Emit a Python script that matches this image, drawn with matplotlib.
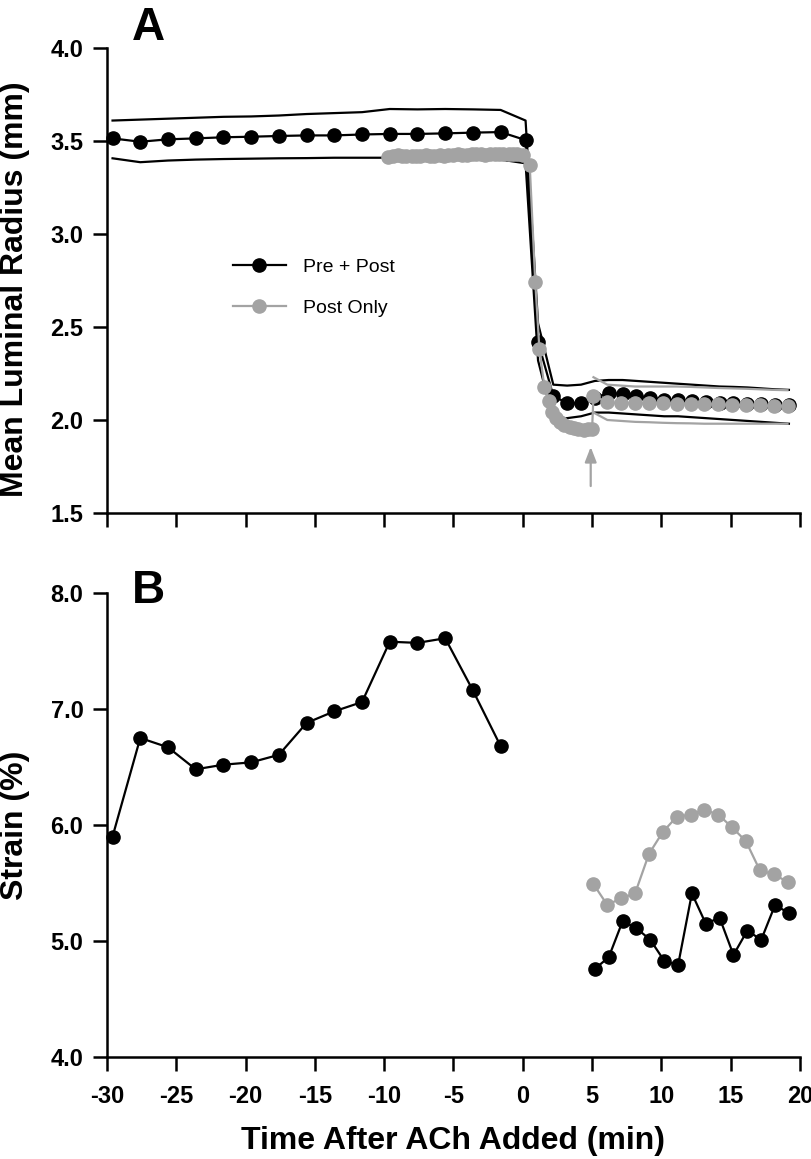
import matplotlib
matplotlib.use("Agg")
import matplotlib.pyplot as plt
from matplotlib.lines import Line2D

plt.rcParams['font.family'] = ['Liberation Sans', 'DejaVu Sans']

GRAY = "#a3a3a3"

# ---- panel A: mean luminal radius (mm) ----
t_black = [-29.6, -27.6, -25.6, -23.6, -21.6, -19.6, -17.6, -15.6, -13.6, -11.6,
           -9.6, -7.6, -5.6, -3.6, -1.6,
           0.2, 1.1, 2.2, 3.2, 4.2, 5.2, 6.2, 7.2, 8.2, 9.2, 10.2, 11.2, 12.2,
           13.2, 14.2, 15.2, 16.2, 17.2, 18.2, 19.2]
r_black = [3.514, 3.496, 3.509, 3.514, 3.52, 3.523, 3.527, 3.53, 3.53, 3.535,
           3.538, 3.538, 3.541, 3.545, 3.548,
           3.505, 2.42, 2.13, 2.09, 2.09, 2.12, 2.145, 2.14, 2.13, 2.12, 2.11, 2.105,
           2.10, 2.095, 2.09, 2.09, 2.085, 2.085, 2.08, 2.08]
r_black_hi = [3.61, 3.615, 3.62, 3.625, 3.63, 3.632, 3.637, 3.645, 3.65, 3.655,
              3.672, 3.67, 3.672, 3.67, 3.667,
              3.61, 2.52, 2.19, 2.185, 2.19, 2.21, 2.215, 2.215, 2.21, 2.205, 2.2,
              2.195, 2.19, 2.185, 2.18, 2.178, 2.175, 2.17, 2.165, 2.162]
r_black_lo = [3.407, 3.386, 3.395, 3.40, 3.403, 3.405, 3.407, 3.408, 3.41, 3.41,
              3.41, 3.41, 3.412, 3.41, 3.40,
              3.38, 2.32, 2.0, 2.01, 2.02, 2.04, 2.04, 2.035, 2.03, 2.025, 2.02, 2.02,
              2.015, 2.01, 2.005, 2.0, 1.995, 1.99, 1.985, 1.98]

t_gray = [-9.7, -9.4, -9.0, -8.7, -8.4, -8.0, -7.7, -7.4, -7.0, -6.7, -6.4, -6.0,
          -5.7, -5.4, -5.0, -4.7, -4.4, -4.0, -3.7, -3.4, -3.0, -2.7, -2.4, -2.0,
          -1.7, -1.4, -1.0, -0.7, -0.4, 0.0,
          0.5, 0.9, 1.2, 1.55, 1.9, 2.1, 2.4, 2.7, 3.0, 3.4, 3.7, 4.0, 4.4, 4.7, 5.0,
          5.1, 6.1, 7.1, 8.1, 9.1, 10.1, 11.1, 12.1, 13.1, 14.1, 15.1, 16.1, 17.1,
          18.1, 19.1]
r_gray = [3.415, 3.42, 3.425, 3.42, 3.418, 3.42, 3.422, 3.42, 3.425, 3.42, 3.422, 3.425,
          3.42, 3.424, 3.425, 3.428, 3.425, 3.424, 3.428, 3.43, 3.428, 3.426, 3.43, 3.432,
          3.43, 3.428, 3.432, 3.43, 3.43, 3.425,
          3.37, 2.74, 2.38, 2.18, 2.10, 2.045, 2.01, 1.99, 1.975, 1.965, 1.955, 1.95,
          1.948, 1.95, 1.952,
          2.13, 2.095, 2.09, 2.09, 2.09, 2.09, 2.088, 2.088, 2.085, 2.085, 2.08, 2.08,
          2.078, 2.075, 2.075]
t_gray_band = [5.1, 6.1, 7.1, 8.1, 9.1, 10.1, 11.1, 12.1, 13.1, 14.1, 15.1, 16.1,
               17.1, 18.1, 19.1]
r_gray_hi = [2.23, 2.19, 2.185, 2.18, 2.18, 2.18, 2.18, 2.178, 2.175, 2.172, 2.17,
             2.168, 2.165, 2.162, 2.16]
r_gray_lo = [2.04, 2.0, 1.995, 1.99, 1.988, 1.985, 1.983, 1.982, 1.98, 1.98, 1.98,
             1.98, 1.98, 1.98, 1.98]

# ---- panel B: strain (%) ----
t_strain_pre = t_black[:15]
strain_pre = [5.90, 6.75, 6.67, 6.48, 6.52, 6.54, 6.605, 6.88, 6.98, 7.06,
              7.58, 7.57, 7.61, 7.16, 6.68]
t_strain_post = [5.2, 6.2, 7.2, 8.2, 9.2, 10.2, 11.2, 12.2, 13.2, 14.2, 15.2,
                 16.2, 17.2, 18.2, 19.2]
strain_post = [4.76, 4.86, 5.17, 5.11, 5.01, 4.83, 4.79, 5.41, 5.15, 5.20,
               4.88, 5.09, 5.01, 5.31, 5.24]
t_strain_gray = t_gray_band
strain_gray = [5.49, 5.31, 5.37, 5.41, 5.75, 5.94, 6.07, 6.09, 6.13, 6.09,
               5.98, 5.86, 5.61, 5.575, 5.51]

W, H = 812, 1159
fig = plt.figure(figsize=(W / 100, H / 100), dpi=100)
L, R = 107 / W, 800 / W
axA = fig.add_axes([L, 1 - 513 / H, R - L, 465 / H])
axB = fig.add_axes([L, 1 - 1057 / H, R - L, 464 / H])

ms, lw = 9.5, 1.6
axA.plot(t_black, r_black_hi, color="black", lw=lw)
axA.plot(t_black, r_black_lo, color="black", lw=lw)
axA.plot(t_black, r_black, color="black", lw=lw, marker="o", ms=ms, clip_on=False)
axA.plot(t_gray_band, r_gray_hi, color=GRAY, lw=lw)
axA.plot(t_gray_band, r_gray_lo, color=GRAY, lw=lw)
axA.plot(t_gray, r_gray, color=GRAY, lw=lw, marker="o", ms=ms, mec=GRAY, mfc=GRAY)
axA.annotate("", xy=(4.9, 1.87), xytext=(4.9, 1.63),
             arrowprops=dict(arrowstyle="-|>,head_width=0.35,head_length=0.9",
                             color=GRAY, lw=1.6))

handles = [Line2D([], [], color="black", lw=lw, marker="o", ms=ms),
           Line2D([], [], color=GRAY, lw=lw, marker="o", ms=ms, mec=GRAY)]
axA.legend(handles, ["Pre + Post", "Post Only"], loc="upper left",
           bbox_to_anchor=(0.182, 0.548), frameon=False, fontsize=14,
           handlelength=2.7, handletextpad=0.9, labelspacing=1.2,
           borderpad=0, borderaxespad=0)

axB.plot(t_strain_pre, strain_pre, color="black", lw=lw, marker="o", ms=ms, clip_on=False)
axB.plot(t_strain_post, strain_post, color="black", lw=lw, marker="o", ms=ms)
axB.plot(t_strain_gray, strain_gray, color=GRAY, lw=lw, marker="o", ms=ms, mec=GRAY)

for ax, lim, ticks in [(axA, (1.5, 4.0), [1.5, 2.0, 2.5, 3.0, 3.5, 4.0]),
                       (axB, (4.0, 8.0), [4.0, 5.0, 6.0, 7.0, 8.0])]:
    ax.set_xlim(-30, 20)
    ax.set_ylim(*lim)
    ax.set_yticks(ticks)
    ax.set_yticklabels([f"{v:.1f}" for v in ticks], fontsize=17, fontweight="bold")
    ax.set_xticks(range(-30, 21, 5))
    for s in ("top", "right"):
        ax.spines[s].set_visible(False)
    for s in ("left", "bottom"):
        ax.spines[s].set_linewidth(1.8)
    ax.tick_params(length=10, width=1.8, direction="out")
    ax.tick_params(axis="y", pad=7)
    ax.tick_params(axis="x", pad=10)

axA.set_xticklabels([])
axB.set_xticklabels([str(v) for v in range(-30, 21, 5)], fontsize=17, fontweight="bold")

fig.text(148 / W, 1 - 28 / H, "A", fontsize=33, fontweight="bold", ha="center", va="center")
fig.text(148 / W, 1 - 591 / H, "B", fontsize=33, fontweight="bold", ha="center", va="center")
fig.text(15 / W, 1 - 289 / H, "Mean Luminal Radius (mm)", rotation=90, fontsize=23,
         fontweight="bold", ha="center", va="center")
fig.text(15 / W, 1 - 825 / H, "Strain (%)", rotation=90, fontsize=23,
         fontweight="bold", ha="center", va="center")
fig.text(453 / W, 1 - 1141 / H, "Time After ACh Added (min)", fontsize=23,
         fontweight="bold", ha="center", va="center")

fig.savefig("out.png", dpi=100, facecolor="white")
